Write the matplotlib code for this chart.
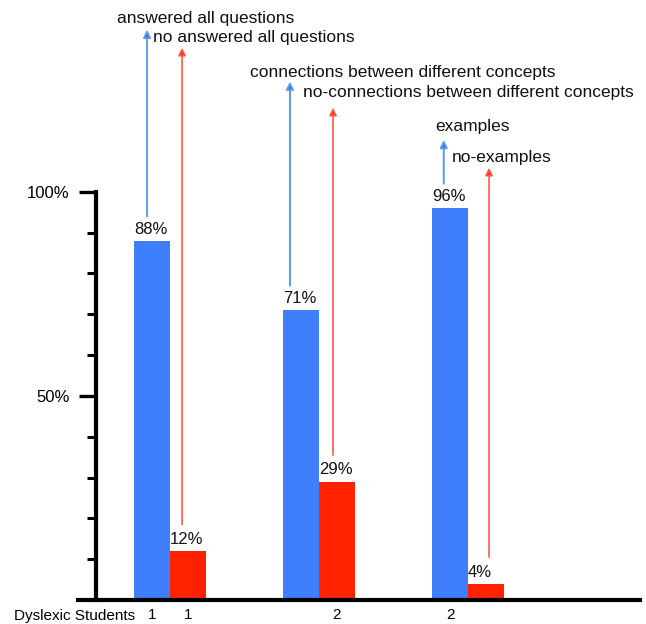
import matplotlib.pyplot as plt
import matplotlib.patheffects as pe

plt.rcParams['font.family'] = ['Liberation Sans', 'DejaVu Sans']

# dados
groups = [1, 2, 3]
yes_vals = [88, 71, 96]
no_vals = [12, 29, 4]
yes_labels = ['answered all questions', 'connections between different concepts', 'examples']
no_labels = ['no answered all questions', 'no-connections between different concepts', 'no-examples']
tick_labels = ['1', '1', '2', '2']

blue = '#3f7ffb'
red = '#ff2200'
w = 0.24

fig = plt.figure(figsize=(6.46, 6.24), dpi=100)
ax = fig.add_axes([78 / 646, 24 / 624, 562 / 646, 600 / 624])
ax.set_xlim(0.3826, 4.154)
ax.set_ylim(0, 147)

blue_x = [g - w / 2 for g in groups]
red_x = [g + w / 2 for g in groups]
ax.bar(blue_x, yes_vals, width=w, color=blue, zorder=2)
ax.bar(red_x, no_vals, width=w, color=red, zorder=2)

# rotulos de porcentagem
for x, v in zip(blue_x + red_x, yes_vals + no_vals):
    ax.annotate(f'{v}%', xy=(x - w / 2, v), xytext=(0, 3), textcoords='offset points',
                ha='left', va='bottom', fontsize=12, color='#111111')

# setas e textos das legendas
blue_tip = [139.7, 127.0, 112.7]
red_tip = [135.3, 120.6, 105.9]
blue_dx = [-0.154, -0.195, -0.163]
red_dx = [0.081, 0.094, 0.141]
blue_txt = [(0.644, 142.4), (1.537, 129.2), (2.779, 115.9)]
red_txt = [(0.886, 137.7), (1.893, 124.3), (2.893, 108.3)]
for i, g in enumerate(groups):
    xb = g + blue_dx[i]
    ax.annotate('', xy=(xb, blue_tip[i]), xytext=(xb, yes_vals[i] + 6),
                arrowprops=dict(arrowstyle='-|>', color='#5a9ae6', lw=1.4,
                                mutation_scale=11, shrinkA=0, shrinkB=0,
                                fc='#1a6fd8', ec='#5a9ae6'),
                annotation_clip=False)
    xr = g + red_dx[i]
    ax.annotate('', xy=(xr, red_tip[i]), xytext=(xr, no_vals[i] + 6.5),
                arrowprops=dict(arrowstyle='-|>', color='#ff5a45', lw=1.2,
                                mutation_scale=11, shrinkA=0, shrinkB=0,
                                fc='#ff2a10', ec='#ff5a45'),
                annotation_clip=False)
    ax.text(blue_txt[i][0], blue_txt[i][1], yes_labels[i], ha='left', va='center',
            fontsize=12.5, color='#111111')
    ax.text(red_txt[i][0], red_txt[i][1], no_labels[i], ha='left', va='center',
            fontsize=12.5, color='#111111')

# eixos
for s in ['top', 'right']:
    ax.spines[s].set_visible(False)
ax.spines['left'].set_position(('data', 0.503))
ax.spines['left'].set_bounds(0, 100)
ax.spines['left'].set_linewidth(3)
ax.spines['bottom'].set_linewidth(3)
shadow = [pe.withSimplePatchShadow(offset=(1, -1.5), shadow_rgbFace='gray', alpha=0.4)]
ax.spines['left'].set_path_effects(shadow)
ax.spines['bottom'].set_path_effects(shadow)

ax.set_yticks([50, 100])
ax.set_yticklabels(['50%', '100%'])
ax.set_yticks(range(10, 100, 10), minor=True)
ax.tick_params(axis='y', which='major', length=12, width=2.4, pad=7, labelsize=12)
ax.tick_params(axis='y', which='minor', length=6.5, width=2.2)

ax.set_xticks([blue_x[0], red_x[0], red_x[1], blue_x[2]])
ax.set_xticklabels(tick_labels)
ax.tick_params(axis='x', length=0, pad=6, labelsize=11)
ax.text(0.765, -0.027, 'Dyslexic Students', transform=ax.get_xaxis_transform(),
        ha='right', va='center', fontsize=11)

plt.savefig('out.png', dpi=100)
